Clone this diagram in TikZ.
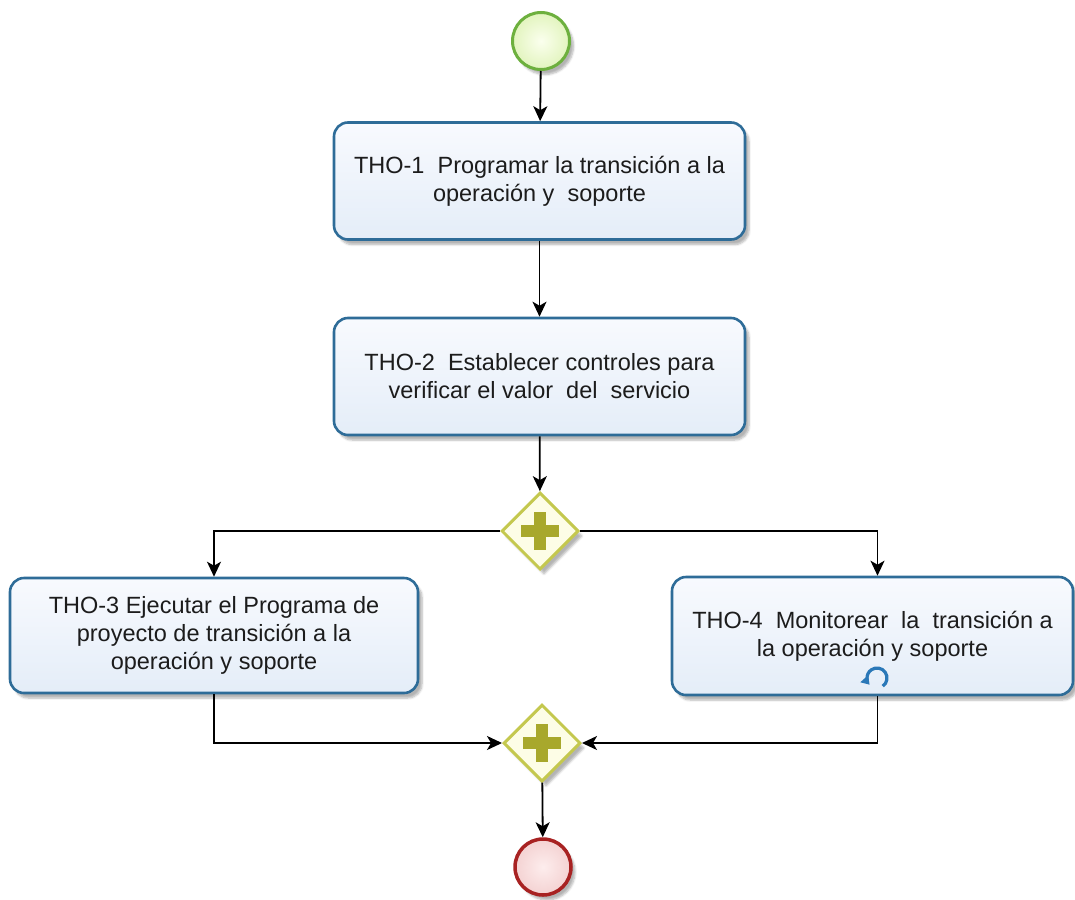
\documentclass[tikz,border=0pt]{standalone}
\usepackage{fontspec}
\setmainfont{Liberation Sans}
\usetikzlibrary{shapes.geometric,arrows.meta,shadows.blur,calc}
\definecolor{taskline}{HTML}{2E6C98}
\definecolor{tasktop}{HTML}{F8FAFE}
\definecolor{taskbot}{HTML}{E4EDF8}
\definecolor{gwline}{HTML}{C4C84E}
\definecolor{gwfill}{HTML}{FDFDE6}
\definecolor{gwplus}{HTML}{A8A82C}
\definecolor{startline}{HTML}{6DB03E}
\definecolor{startin}{HTML}{FBFFEE}
\definecolor{startout}{HTML}{E2F4BE}
\definecolor{endline}{HTML}{A82222}
\definecolor{endin}{HTML}{FDEDED}
\definecolor{endout}{HTML}{F4D2D2}
\definecolor{loopblue}{HTML}{2A78B8}
\definecolor{txt}{HTML}{1C1C1C}
\begin{document}
\begin{tikzpicture}[x=1pt,y=-1pt,
  shade/.style={blur shadow={shadow xshift=4pt,shadow yshift=-5pt,shadow blur steps=6,shadow opacity=30}},
  task/.style={draw=taskline,line width=2.6pt,rounded corners=14pt,
    top color=tasktop,bottom color=taskbot,align=center,inner sep=0pt,
    text=txt,font=\fontsize{23.5}{28}\selectfont,shade},
  gateway/.style={diamond,shape aspect=1,draw=gwline,line width=3pt,fill=gwfill,
    minimum width=77pt,minimum height=77pt,inner sep=0pt,shade},
  plusbar/.style={draw=gwplus,line width=12pt},
  startev/.style={circle,draw=startline,line width=3pt,inner color=startin,outer color=startout,
    minimum size=57pt,inner sep=0pt,shade},
  endev/.style={circle,draw=endline,line width=3.5pt,inner color=endin,outer color=endout,
    minimum size=56pt,inner sep=0pt,shade},
  flow/.style={draw=black,line width=1.8pt,-{Stealth[length=15pt,width=14pt,inset=4pt]}},
  loopmark/.style={draw=loopblue,line width=3.2pt,-{Triangle[length=8pt,width=10pt]}}
]
\useasboundingbox (0,0) rectangle (1075,899);

% events
\node[startev] (s) at (541,41) {};
\node[endev] (e) at (543,867) {};

% tasks
\node[task,minimum width=411pt,minimum height=117pt] (t1) at (539.5,181)
  {THO-1\ \ Programar la transición a la\\operación y\ \ soporte};
\node[task,minimum width=411pt,minimum height=117pt] (t2) at (539.5,376.5)
  {THO-2\ \ Establecer controles para\\verificar el valor\ \ del\ \ servicio};
\node[task,minimum width=408pt,minimum height=115pt] (t3) at (214,635.5)
  {THO-3 Ejecutar el Programa de\\proyecto de transición a la\\operación y soporte};
\node[task,minimum width=401pt,minimum height=118pt] (t4) at (872.5,636)
  {THO-4\ \ Monitorear\ \ la\ \ transición a\\la operación y soporte};

% loop marker of THO-4
\coordinate (lp) at (877,678);
\draw[loopmark] ($(lp)+(55:10)$) arc[start angle=55,end angle=-222,radius=10];

% parallel gateways
\node[gateway] (g1) at (540,531) {};
\node[gateway] (g2) at (542,743) {};
\foreach \g in {g1,g2}{
  \draw[plusbar] ($(\g)+(-19,0)$) -- ($(\g)+(19,0)$);
  \draw[plusbar] ($(\g)+(0,-19)$) -- ($(\g)+(0,19)$);
}

% sequence flows
\coordinate (t4in) at ([xshift=5pt]t4.north);
\coordinate (t4out) at ([xshift=5pt]t4.south);
\draw[flow] (s) -- (t1);
\draw[flow] (t1) -- (t2);
\draw[flow] (t2) -- (g1);
\draw[flow] (g1.west) -| (t3.north);
\draw[flow] (g1.east) -| (t4in);
\draw[flow] (t3.south) |- (g2.west);
\draw[flow] (t4out) |- (g2.east);
\draw[flow] (g2) -- (e);
\end{tikzpicture}
\end{document}
